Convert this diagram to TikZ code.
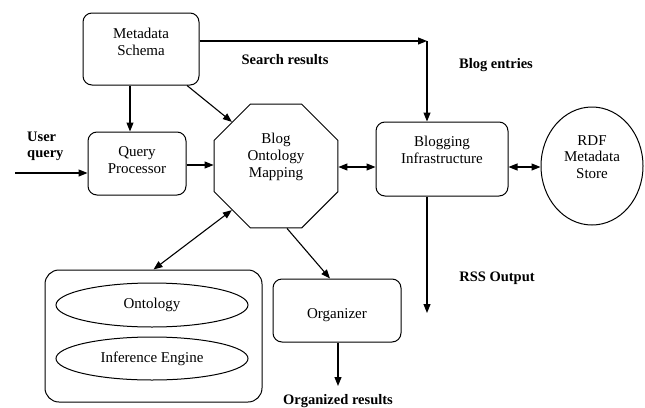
\documentclass[tikz,border=0pt]{standalone}
\usepackage{fontspec}
\setmainfont{Liberation Serif}
\usetikzlibrary{shapes.geometric,arrows.meta}
\begin{document}
\begin{tikzpicture}[x=1pt,y=-1pt,
  every node/.style={font=\fontsize{15}{16.7}\selectfont, inner sep=0pt},
  box/.style={draw, rounded corners=9pt, line width=1pt},
  txt/.style={align=center},
  lbl/.style={font=\fontsize{14.5}{16}\selectfont\bfseries, align=left},
  ell/.style={draw, ellipse, line width=1pt},
  arr/.style={line width=1.1pt, -{Triangle[length=9pt,width=7pt]}},
  darr/.style={line width=1.1pt, {Triangle[length=9pt,width=7pt]}-{Triangle[length=9pt,width=7pt]}}]
\useasboundingbox (0,0) rectangle (645,407);
% boxes
\node[box, minimum width=116pt, minimum height=72pt] (meta) at (141,49) {};
\node[txt] (metat) at (141,42) {Metadata\\Schema};
\node[box, minimum width=98pt, minimum height=63pt] (qp) at (137,163.5) {};
\node[txt] (qpt) at (137,160) {Query\\Processor};
\node[draw, regular polygon, regular polygon sides=8, minimum size=134pt, line width=1pt] (oct) at (276,166) {};
\node[txt] (octt) at (276,157) {Blog\\Ontology\\Mapping};
\node[box, minimum width=132pt, minimum height=74pt] (blog) at (442,159) {};
\node[txt] (blogt) at (442,150) {Blogging\\Infrastructure};
\node[ell, minimum width=102pt, minimum height=118pt] (rdf) at (592,166) {};
\node[txt] (rdft) at (592,157) {RDF\\Metadata\\Store};
\node[box, minimum width=128pt, minimum height=63pt] (org) at (337,310.5) {};
\node[txt] (orgt) at (337,315) {Organizer};
\node[box, rounded corners=14pt, minimum width=217pt, minimum height=132pt] (big) at (153.5,336) {};
\node[ell, minimum width=192pt, minimum height=44pt] (onto) at (152,305) {Ontology};
\node[ell, minimum width=192pt, minimum height=43pt] (inf) at (152,358.5) {Inference Engine};
% labels
\node[lbl, anchor=west] (uq) at (27,146) {User\\query};
\node[lbl] (sr) at (285,60) {Search results};
\node[lbl] (be) at (496,65) {Blog entries};
\node[lbl] (rss) at (497,278) {RSS Output};
\node[lbl] (orr) at (338,401) {Organized results};
% coordinates
\coordinate (c1) at (427,41);
\coordinate (in) at (15,173);
\coordinate (rssend) at (427,313);
\coordinate (orgend) at (338,386);
% connectors
\draw[arr] ([yshift=8pt]meta.east) -- (c1);
\draw[arr] (c1) -- (c1 |- blog.north);
\draw[arr] ([xshift=-11pt]meta.south) -- ([xshift=-7pt]qp.north);
\draw[arr] ([xshift=46pt]meta.south) -- (oct.north west);
\draw[arr] (in) -- (in -| qp.west);
\draw[arr] ([yshift=-1.5pt]qp.east) -- ([yshift=-1.5pt]qp.east -| oct.west);
\draw[darr] ([yshift=-1pt]oct.east) -- ([yshift=-1pt]oct.east -| blog.west);
\draw[darr] ([yshift=-1pt]rdf.west -| blog.east) -- ([yshift=-1pt]rdf.west);
\draw[arr] (c1 |- blog.south) -- (rssend);
\draw[arr] ([xshift=11pt]oct.south) -- ([xshift=-7pt]org.north);
\draw[arr] (org.south -| orgend) -- (orgend);
\draw[darr] (oct.south west) -- (big.north);
\end{tikzpicture}
\end{document}
